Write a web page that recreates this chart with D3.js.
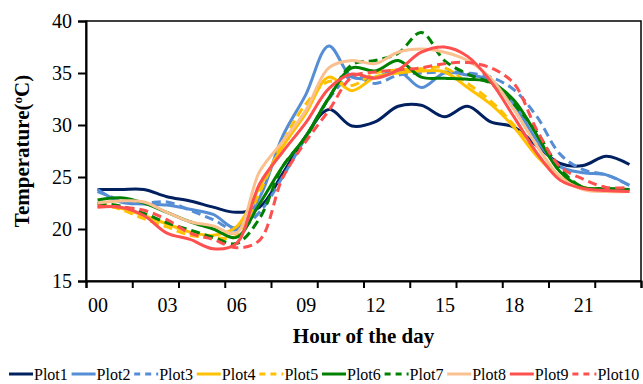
<!DOCTYPE html>
<html>
<head>
<meta charset="utf-8">
<script src="https://cdn.jsdelivr.net/npm/d3@7"></script>
<style>
  body { margin: 0; background: #fff; }
  svg { display: block; }
  .axis path, .axis line { stroke: #000; }
</style>
</head>
<body>
<div id="chart"></div>
<script>
// hour of the day (categories)
var hours = [0,1,2,3,4,5,6,7,8,9,10,11,12,13,14,15,16,17,18,19,20,21,22,23];
var hourLabels = ["00","03","06","09","12","15","18","21"];
var labelHours = [0,3,6,9,12,15,18,21];
var tempTicks = [15,20,25,30,35,40];

var seriesNames = ["Plot1","Plot2","Plot3","Plot4","Plot5","Plot6","Plot7","Plot8","Plot9","Plot10"];

// temperatures, one value per hour
var plot1  = [23.8,23.8,23.8,23.1,22.7,22.1,21.6,22.1,25.3,28.9,31.5,29.9,30.3,31.8,31.9,30.8,31.8,30.3,29.8,28.0,26.3,26.1,27.0,26.2];
var plot2  = [23.8,22.6,22.4,22.3,21.9,21.4,20.1,23.0,28.9,32.9,37.6,34.6,34.6,35.2,33.6,35.0,34.8,34.3,32.0,28.5,26.0,25.4,25.2,24.2];
var plot3  = [23.6,22.8,22.5,22.6,21.8,20.9,19.9,21.6,25.0,28.8,32.5,34.7,34.0,34.8,35.0,35.1,35.0,34.6,33.4,30.8,27.2,25.7,25.2,24.2];
var plot4  = [22.3,22.0,21.3,20.5,19.7,19.4,20.2,24.0,27.9,31.1,34.6,33.3,34.6,35.0,35.2,35.1,33.6,32.0,29.8,27.0,25.0,24.0,23.8,23.7];
var plot5  = [22.5,21.9,21.0,20.2,19.4,19.2,19.3,23.5,28.3,32.0,34.2,33.8,35.0,35.3,35.4,35.5,34.0,32.3,30.0,27.2,25.0,24.0,23.7,23.6];
var plot6  = [22.8,23.0,22.5,21.6,20.7,20.0,19.2,22.4,26.0,28.9,32.6,35.5,35.2,36.2,34.6,34.5,34.4,34.1,32.4,29.0,25.5,24.0,23.9,23.8];
var plot7  = [22.5,22.2,21.5,20.6,19.9,19.2,18.6,21.0,26.0,28.8,32.6,35.8,36.2,36.9,38.9,36.2,34.9,34.0,32.0,29.3,25.8,24.0,23.8,23.8];
var plot8  = [22.5,22.7,22.6,21.6,20.7,20.3,19.6,25.5,28.4,31.4,35.5,36.2,35.9,37.0,37.3,37.0,36.2,34.5,31.5,28.0,25.0,23.8,23.6,23.6];
var plot9  = [22.1,22.1,21.3,19.6,19.0,18.1,18.6,24.3,27.4,30.2,33.5,34.9,34.5,35.3,37.0,37.5,36.6,34.2,30.8,27.3,24.7,23.9,23.7,23.6];
var plot10 = [22.2,22.1,21.8,20.9,19.6,19.0,18.2,18.9,24.9,28.4,31.4,34.6,35.1,35.3,35.5,35.9,36.0,35.5,34.0,29.5,26.0,24.8,24.0,24.0];

var seriesValues = [plot1,plot2,plot3,plot4,plot5,plot6,plot7,plot8,plot9,plot10];
var seriesColors = ["#002060","#558ed5","#558ed5","#ffc000","#ffc000","#008000","#008000","#fac090","#ff5050","#ff5050"];
var seriesDashed = [false,false,true,false,true,false,true,false,false,true];

var serif = "Liberation Serif, DejaVu Serif, serif";

var width = 643, height = 384;
var margin = {top: 21, right: 2, bottom: 103, left: 86};
var plotW = width - margin.left - margin.right,
    plotH = height - margin.top - margin.bottom;

var svg = d3.select("#chart").append("svg")
    .attr("width", width)
    .attr("height", height);

var g = svg.append("g")
    .attr("transform", "translate(" + margin.left + "," + margin.top + ")");

var x = d3.scaleLinear().domain([-0.5, 23.5]).range([0, plotW]);
var y = d3.scaleLinear().domain([15, 40]).range([plotH, 0]);

// plot area frame (top and right)
g.append("rect")
    .attr("width", plotW)
    .attr("height", plotH)
    .attr("fill", "none")
    .attr("stroke", "#000")
    .attr("stroke-width", 1.5);

// lines
var line = d3.line()
    .x(function(d) { return x(d[0]); })
    .y(function(d) { return y(d[1]); })
    .curve(d3.curveCatmullRom.alpha(0.5));

seriesValues.forEach(function(vals, i) {
    g.append("path")
        .datum(hours.map(function(h, j) { return [h, vals[j]]; }))
        .attr("fill", "none")
        .attr("stroke", seriesColors[i])
        .attr("stroke-width", 3)
        .attr("stroke-dasharray", seriesDashed[i] ? "9,5" : null)
        .attr("d", line);
});

// y axis
var yAxis = g.append("g")
    .attr("class", "axis")
    .call(d3.axisLeft(y).tickValues(tempTicks).tickSize(8).tickPadding(6).tickFormat(d3.format("d")));
yAxis.selectAll("path, line").attr("stroke-width", 2);
yAxis.selectAll("text").style("font-family", serif).style("font-size", "20px");

// x axis: tick marks every 2 hours between categories, labels every 3 hours
var xTicks = g.append("g")
    .attr("class", "axis")
    .attr("transform", "translate(0," + plotH + ")")
    .call(d3.axisBottom(x).tickValues(d3.range(-0.5, 24, 2)).tickSize(7).tickFormat(""));
xTicks.selectAll("path, line").attr("stroke-width", 2);

var xLabels = g.append("g")
    .attr("transform", "translate(0," + plotH + ")")
    .call(d3.axisBottom(x).tickValues(labelHours).tickSize(0).tickPadding(17)
        .tickFormat(function(d, i) { return hourLabels[i]; }));
xLabels.select(".domain").remove();
xLabels.selectAll("text").style("font-family", serif).style("font-size", "20px");

// axis titles
svg.append("text")
    .attr("x", margin.left + plotW / 2)
    .attr("y", 343)
    .attr("text-anchor", "middle")
    .style("font-family", serif)
    .style("font-size", "21px")
    .style("font-weight", "bold")
    .text("Hour of the day");

var yTitle = svg.append("text")
    .attr("transform", "translate(29," + (margin.top + plotH / 2) + ") rotate(-90)")
    .attr("text-anchor", "middle")
    .style("font-family", serif)
    .style("font-size", "21px")
    .style("font-weight", "bold");
yTitle.append("tspan").text("Temperature(");
yTitle.append("tspan").attr("baseline-shift", "super").style("font-size", "13px").text("o");
yTitle.append("tspan").text("C)");

// legend
var legend = svg.append("g").attr("transform", "translate(9,374)");
var itemW = 62.6;
seriesNames.forEach(function(name, i) {
    var it = legend.append("g").attr("transform", "translate(" + (i * itemW) + ",0)");
    it.append("line")
        .attr("x1", 0).attr("x2", 24)
        .attr("y1", 0).attr("y2", 0)
        .attr("stroke", seriesColors[i])
        .attr("stroke-width", 3)
        .attr("stroke-dasharray", seriesDashed[i] ? "6,5" : null);
    it.append("text")
        .attr("x", 25)
        .attr("y", 5.5)
        .style("font-family", serif)
        .style("font-size", "16px")
        .text(name);
});
</script>
</body>
</html>
